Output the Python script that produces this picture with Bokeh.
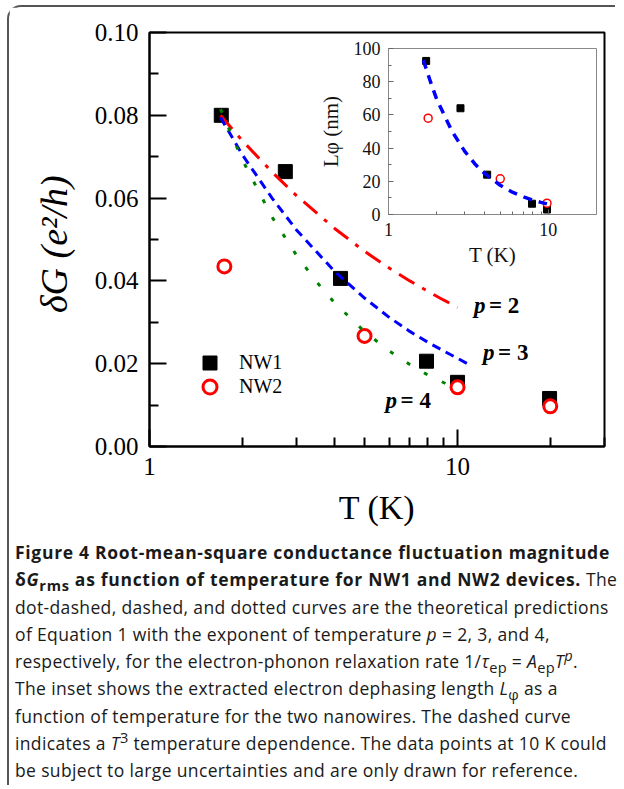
from bokeh.plotting import figure
from bokeh.models import FixedTicker, PrintfTickFormatter, Legend, LegendItem, Div, Range1d
from bokeh.layouts import column, row
from bokeh.embed import file_html
from bokeh.resources import INLINE
from bokeh.core.properties import value

# ---------------- data ----------------
# main panel: delta G (e^2/h) vs T (K)
nw1_T = [1.71, 2.76, 4.17, 7.93, 10.0, 19.9]
nw1_G = [0.0800, 0.0664, 0.0406, 0.0206, 0.0155, 0.0116]
nw2_T = [1.75, 4.99, 10.0, 20.0]
nw2_G = [0.0435, 0.0267, 0.0143, 0.0097]

p2_T = [1.7, 2.0, 2.5, 3.0, 4.0, 5.0, 6.0, 7.0, 8.0, 9.0, 10.0]
p2_G = [0.0800, 0.0739, 0.0663, 0.0606, 0.0526, 0.0471, 0.0431, 0.0400, 0.0375, 0.0354, 0.0336]
p3_T = [1.7, 2.0, 2.5, 3.0, 4.0, 5.0, 6.0, 7.0, 8.0, 9.0, 10.0, 10.9]
p3_G = [0.0795, 0.0705, 0.0600, 0.0523, 0.0422, 0.0358, 0.0312, 0.0278, 0.0252, 0.0231, 0.0213, 0.0198]
p4_T = [1.7, 2.0, 2.5, 3.0, 3.5, 4.0, 5.0, 6.0, 7.0, 8.0, 9.5]
p4_G = [0.0815, 0.0693, 0.0554, 0.0462, 0.0396, 0.0346, 0.0277, 0.0231, 0.0198, 0.0173, 0.0146]

ann_T = [11.3, 12.1, 5.84]
ann_G = [0.0340, 0.0227, 0.0111]
ann_sym = ["p", "p", "p"]
ann_val = ["= 2", "= 3", "= 4"]

y_ticks = [0.0, 0.02, 0.04, 0.06, 0.08, 0.10]
y_minor = [0.01, 0.03, 0.05, 0.07, 0.09]
x_ticks = [1, 10]
x_minor = [2, 3, 4, 5, 6, 7, 8, 9, 20, 30]

# inset: L_phi (nm) vs T (K)
in_nw1_T = [1.72, 2.82, 4.14, 7.9, 9.8]
in_nw1_L = [92.5, 64.0, 24.0, 6.5, 3.0]
in_nw2_T = [1.77, 5.0, 9.8]
in_nw2_L = [58.0, 21.5, 6.8]
in_fit_T = [1.65, 1.83, 2.0, 2.5, 3.0, 3.5, 4.0, 5.0, 6.0, 7.0, 8.0, 9.0, 9.8]
in_fit_L = [93.0, 80.0, 69.5, 50.0, 38.0, 30.1, 24.6, 17.6, 13.3, 10.6, 8.6, 7.3, 6.4]
in_y_ticks = [0, 20, 40, 60, 80, 100]
in_y_minor = [10, 30, 50, 70, 90]
in_x_ticks = [1, 10]
in_x_minor = [2, 3, 4, 5, 6, 7, 8, 9]

SERIF = "Liberation Serif"

# ---------------- main figure ----------------
p = figure(width=605, height=528, x_axis_type="log",
           x_range=Range1d(1, 30), y_range=Range1d(0, 0.10),
           min_border_left=140, min_border_right=10, min_border_top=25, min_border_bottom=89,
           output_backend="svg", toolbar_location=None)
p.grid.visible = False
p.outline_line_color = "black"
p.outline_line_width = 2
p.background_fill_color = "white"
p.border_fill_color = "white"

p.xaxis.ticker = FixedTicker(ticks=x_ticks, minor_ticks=x_minor)
p.xaxis.formatter = PrintfTickFormatter(format="%d")
p.yaxis.ticker = FixedTicker(ticks=y_ticks, minor_ticks=y_minor)
p.yaxis.formatter = PrintfTickFormatter(format="%.2f")

for ax in (p.xaxis[0], p.yaxis[0]):
    ax.axis_line_width = 2
    ax.axis_line_color = "black"
    ax.major_tick_line_width = 2
    ax.minor_tick_line_width = 2
    ax.major_tick_in = 17
    ax.major_tick_out = 0
    ax.minor_tick_in = 9
    ax.minor_tick_out = 0
    ax.major_label_text_font = SERIF
    ax.major_label_text_font_size = "25px"
    ax.major_label_text_color = "black"
    ax.axis_label_text_font = SERIF
    ax.axis_label_text_color = "black"

p.xaxis.major_label_standoff = 11
p.xaxis.axis_label = "T (K)"
p.xaxis.axis_label_text_font_size = "34px"
p.xaxis.axis_label_text_font_style = "normal"
p.xaxis.axis_label_standoff = 11

p.yaxis.major_label_standoff = 11
p.yaxis.axis_label = "δG  (e²/h)"
p.yaxis.axis_label_text_font_size = "38px"
p.yaxis.axis_label_text_font_style = "italic"
p.yaxis.axis_label_standoff = 17

r1 = p.scatter(nw1_T, nw1_G, marker="square", size=14, fill_color="black", line_color="black")
r2 = p.scatter(nw2_T, nw2_G, marker="circle", size=13, fill_color="white",
               line_color="#FF0000", line_width=3)

p.line(p2_T, p2_G, line_color="#FF0000", line_width=3, line_dash="18 9 4 9")
p.line(p3_T, p3_G, line_color="#0000FF", line_width=3, line_dash="9 6")
p.line(p4_T, p4_G, line_color="#008000", line_width=3, line_dash="4 16")

p.text(ann_T, ann_G, text=ann_sym, text_font=value(SERIF), text_font_style="bold italic",
       text_font_size="23px", text_baseline="middle", text_align="left", text_color="black")
p.text(ann_T, ann_G, text=ann_val, text_font=value(SERIF), text_font_style="bold",
       text_font_size="23px", text_baseline="middle", text_align="left", text_color="black",
       x_offset=15)

legend_style = dict(glyph_width=35, glyph_height=35, label_standoff=12, padding=0, margin=0,
                    border_line_color=None, background_fill_alpha=0,
                    label_text_font=SERIF, label_text_font_size="20px", label_text_color="black")
leg1 = Legend(items=[LegendItem(label="NW1", renderers=[r1])], location=(43, 66), **legend_style)
leg2 = Legend(items=[LegendItem(label="NW2", renderers=[r2])], location=(43, 42), **legend_style)
p.add_layout(leg1)
p.add_layout(leg2)

# ---------------- inset figure ----------------
q = figure(width=300, height=244, x_axis_type="log",
           x_range=Range1d(1, 20), y_range=Range1d(0, 100),
           min_border_left=88, min_border_right=4, min_border_top=18, min_border_bottom=60,
           output_backend="svg", toolbar_location=None)
q.grid.visible = False
q.border_fill_alpha = 0
q.background_fill_color = "white"
q.outline_line_color = "#888888"
q.outline_line_width = 1

q.xaxis.ticker = FixedTicker(ticks=in_x_ticks, minor_ticks=in_x_minor)
q.xaxis.formatter = PrintfTickFormatter(format="%d")
q.yaxis.ticker = FixedTicker(ticks=in_y_ticks, minor_ticks=in_y_minor)

for ax in (q.xaxis[0], q.yaxis[0]):
    ax.axis_line_color = "#888888"
    ax.axis_line_width = 1
    ax.major_tick_line_color = "#666666"
    ax.minor_tick_line_color = "#666666"
    ax.major_tick_in = 5
    ax.major_tick_out = 0
    ax.minor_tick_in = 3
    ax.minor_tick_out = 0
    ax.major_label_text_font = SERIF
    ax.major_label_text_font_size = "18px"
    ax.major_label_text_color = "#111111"
    ax.axis_label_text_font = SERIF
    ax.axis_label_text_font_size = "21px"
    ax.axis_label_text_font_style = "normal"
    ax.axis_label_text_color = "#111111"

q.xaxis.major_label_standoff = 8
q.xaxis.axis_label = "T (K)"
q.xaxis.axis_label_standoff = 4
q.yaxis.major_label_standoff = 8
q.yaxis.axis_label = "Lφ (nm)"
q.yaxis.axis_label_standoff = 8

q.scatter(in_nw1_T, in_nw1_L, marker="square", size=7, fill_color="black", line_color="black")
q.scatter(in_nw2_T, in_nw2_L, marker="circle", size=8, fill_color="white",
          line_color="#FF0000", line_width=1.5)
q.line(in_fit_T, in_fit_L, line_color="#0000FF", line_width=3.5, line_dash="9 7")

# overlay the inset onto the main panel (top, right, bottom, left)
inset_box = row(q, margin=(-505, 0, 261, 291))

# ---------------- caption ----------------
B = '<b style="letter-spacing:0.7px">'
SUB = '<sub style="line-height:0">'
SUP = '<sup style="line-height:0">'
caption = (
    B + 'Figure 4 Root-mean-square conductance fluctuation magnitude<br>'
    'δ<i>G</i>' + SUB + 'rms</sub> as function of temperature for NW1 and NW2 devices.</b> The<br>'
    'dot-dashed, dashed, and dotted curves are the theoretical predictions<br>'
    'of Equation 1 with the exponent of temperature <i>p</i> = 2, 3, and 4,<br>'
    'respectively, for the electron-phonon relaxation rate 1/<i>τ</i>' + SUB + 'ep</sub> = '
    '<i>A</i>' + SUB + 'ep</sub><i>T</i>' + SUP + '<i>p</i></sup>.<br>'
    'The inset shows the extracted electron dephasing length <i>L</i>' + SUB + 'φ</sub> as a<br>'
    'function of temperature for the two nanowires. The dashed curve<br>'
    'indicates a <i>T</i>' + SUP + '3</sup> temperature dependence. The data points at 10 K could<br>'
    'be subject to large uncertainties and are only drawn for reference.'
)
cap = Div(text=caption, width=600, margin=(4, 0, 0, 6),
          styles={"font-family": "'Open Sans', sans-serif", "font-size": "17.5px",
                  "letter-spacing": "0.35px",
                  "line-height": "27.3px", "white-space": "nowrap", "color": "#1a1a1a"})

root = column(p, inset_box, cap, margin=(5, 0, 0, 7),
              styles={"border-left": "2px solid #555555", "border-top": "2px solid #555555",
                      "border-top-left-radius": "14px"})

open("out.html", "w").write(file_html(root, INLINE))
